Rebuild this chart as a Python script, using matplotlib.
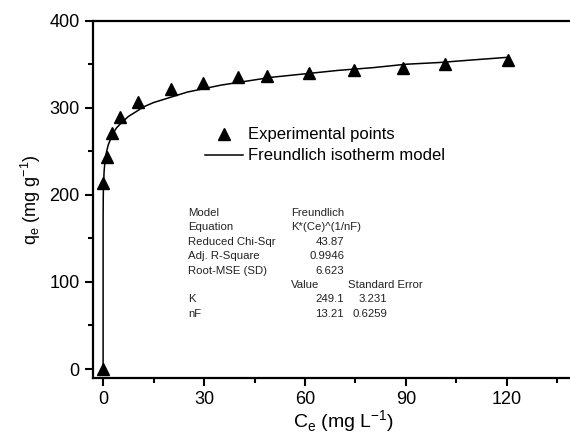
import matplotlib
matplotlib.use("Agg")
import matplotlib.pyplot as plt
from matplotlib.ticker import MultipleLocator

plt.rcParams['font.family'] = ['Liberation Sans', 'DejaVu Sans']

# Experimental points (Ce, qe)
ce_exp = [0, 0.1, 1.2, 2.6, 4.9, 10.3, 20.2, 29.8, 40.2, 48.8, 61.3, 74.6, 89.2, 101.6, 120.4]
qe_exp = [0, 214, 243, 271, 289, 307, 321, 329, 335, 337, 340, 343, 346, 350, 355]

# Freundlich fit line
ce_fit = [0, 0.002, 0.01, 0.05, 0.1, 0.3, 0.5, 1, 1.5, 2, 3, 4, 5, 7.5, 10, 12, 15, 17.5,
          20, 25, 30, 35, 40, 50, 60, 70, 80, 90, 100, 110, 120.4]
qe_fit = [0, 156, 176, 198, 209, 227, 236, 249, 257, 262, 271, 277, 281, 290, 296, 301,
          306, 309, 312, 318, 322, 326, 329, 335, 339, 343, 346, 350, 352, 355, 358]

table_labels = ['Model', 'Equation', 'Reduced Chi-Sqr', 'Adj. R-Square',
                'Root-MSE (SD)', '', 'K', 'nF']
table_values = ['Freundlich', 'K*(Ce)^(1/nF)', '43.87', '0.9946', '6.623', 'Value',
                '249.1', '13.21']
table_errors = ['', '', '', '', '', 'Standard Error', '3.231', '0.6259']

W, H = 570, 440
fig = plt.figure(figsize=(W / 100, H / 100), dpi=100)
# the axes run past the right edge of the image, as in the original
ax = fig.add_axes([93 / W, 1 - 378 / H, (595 - 93) / W, (378 - 20.7) / H])

ax.plot(ce_fit, qe_fit, color='black', lw=1.1, zorder=2)
ax.plot(ce_exp, qe_exp, '^', color='black', ms=9, zorder=3)

ax.set_xlim(-3, 146.2)
ax.set_ylim(-10.3, 400)
ax.xaxis.set_major_locator(MultipleLocator(30))
ax.xaxis.set_minor_locator(MultipleLocator(15))
ax.yaxis.set_major_locator(MultipleLocator(100))
ax.yaxis.set_minor_locator(MultipleLocator(50))
ax.tick_params(which='both', direction='out', width=1.5, labelsize=13, top=False, right=False)
ax.tick_params(which='major', length=6)
ax.tick_params(which='minor', length=3.5)
for sp in ax.spines.values():
    sp.set_linewidth(1.6)

ax.set_xlabel(r'C$_\mathregular{e}$ (mg L$^\mathregular{-1}$)', fontsize=14, labelpad=0)
ax.set_ylabel(r'q$_\mathregular{e}$ (mg g$^\mathregular{-1}$)', fontsize=13, labelpad=5)

# legend drawn by hand
fig.lines.append(plt.Line2D([224 / W], [1 - 134 / H], marker='^', ms=9, color='black',
                            transform=fig.transFigure))
fig.lines.append(plt.Line2D([205 / W, 243 / W], [1 - 155 / H, 1 - 155 / H], lw=1.1,
                            color='black', transform=fig.transFigure))
fig.text(248 / W, 1 - 134 / H, 'Experimental points', fontsize=12, va='center')
fig.text(248 / W, 1 - 155 / H, 'Freundlich isotherm model', fontsize=12, va='center')

# fit results table
fs = 8.2
for i in range(len(table_labels)):
    y = 1 - (213 + 14.4 * i) / H
    fig.text(188 / W, y, table_labels[i], fontsize=fs, va='center', color='#222222')
    if i < 2 or i == 5:
        fig.text(291 / W, y, table_values[i], fontsize=fs, va='center', color='#222222')
    else:
        fig.text(344 / W, y, table_values[i], fontsize=fs, va='center', ha='right',
                 color='#222222')
    if i == 5:
        fig.text(348 / W, y, table_errors[i], fontsize=fs, va='center', color='#222222')
    elif table_errors[i]:
        fig.text(387 / W, y, table_errors[i], fontsize=fs, va='center', ha='right',
                 color='#222222')

fig.savefig('out.png', dpi=100)
